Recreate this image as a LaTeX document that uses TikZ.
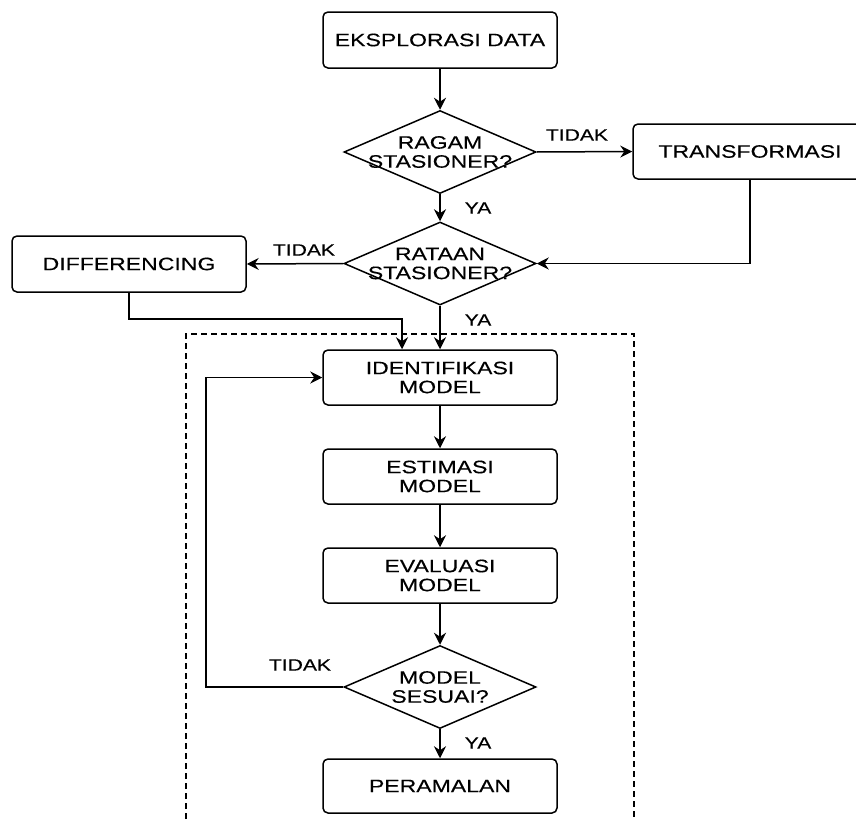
\documentclass[tikz,border=0pt]{standalone}
\usepackage{fontspec}
\setmainfont{Liberation Sans}[FakeStretch=1.28,FakeBold=0.3]
\usetikzlibrary{shapes.geometric,arrows.meta}
\tikzset{
  box/.style={draw,line width=1.5pt,rounded corners=5pt,minimum width=234pt,minimum height=56pt,inner sep=0pt,align=center,font=\fontsize{18}{19}\selectfont},
  dia/.style={draw,line width=1.5pt,diamond,minimum width=192pt,minimum height=83pt,inner sep=0pt},
  dtxt/.style={align=center,inner sep=0pt,font=\fontsize{18}{19}\selectfont},
  lbl/.style={inner sep=0pt,font=\fontsize{16.5}{18}\selectfont},
  arr/.style={line width=1.5pt,-{Stealth[length=12pt,width=12pt,inset=4pt]}},
}
\begin{document}
\begin{tikzpicture}[x=1pt,y=-1pt]
\useasboundingbox (0,0) rectangle (856,819);
\node[box] (eks) at (440,40) {EKSPLORASI DATA};
\node[dia] (d1) at (440,152) {};
\node[dtxt] (d1t) at (440,152) {RAGAM\\STASIONER?};
\node[box,minimum height=55pt] (tr) at (750,151.5) {TRANSFORMASI};
\node[dia] (d2) at (440,263.5) {};
\node[dtxt] (d2t) at (440,263.5) {RATAAN\\STASIONER?};
\node[box] (diff) at (129,264) {DIFFERENCING};
\node[box,minimum height=55pt] (id) at (440,377.5) {IDENTIFIKASI\\MODEL};
\node[box,minimum height=55pt] (est) at (440,476.5) {ESTIMASI\\MODEL};
\node[box,minimum height=55pt] (eva) at (440,575.5) {EVALUASI\\MODEL};
\node[dia] (d3) at (440,687) {};
\node[dtxt] (d3t) at (440,687) {MODEL\\SESUAI?};
\node[box,minimum height=54pt] (per) at (440,786) {PERAMALAN};
% dashed frame
\coordinate (fbl) at (186,819);
\coordinate (ftl) at (186,334);
\coordinate (ftr) at (634,334);
\coordinate (fbr) at (634,819);
\draw[line width=1.2pt,dash pattern=on 6pt off 4pt] (fbl) -- (ftl) -- (ftr) -- (fbr);
% connectors
\draw[arr] (eks) -- (d1);
\draw[arr] (d1) -- (d2);
\draw[arr] (d1.east) -- (tr.west);
\draw[arr] (tr.south) |- (d2.east);
\draw[arr] (d2.west) -- (diff.east);
\coordinate (j1) at (402,319);
\draw[arr] (diff.south) |- (j1) -- (j1 |- id.north);
\draw[arr] (d2) -- (id);
\draw[arr] (id) -- (est);
\draw[arr] (est) -- (eva);
\draw[arr] (eva) -- (d3);
\draw[arr] (d3) -- (per);
\coordinate (j2) at (206,687);
\draw[arr] (d3.west) -- (j2) |- (id.west);
% labels
\node[lbl] (l1) at (577,135) {TIDAK};
\node[lbl] (l2) at (478,208) {YA};
\node[lbl] (l3) at (304,250) {TIDAK};
\node[lbl] (l4) at (478,320) {YA};
\node[lbl] (l5) at (300,665) {TIDAK};
\node[lbl] (l6) at (478,743) {YA};
\end{tikzpicture}
\end{document}
